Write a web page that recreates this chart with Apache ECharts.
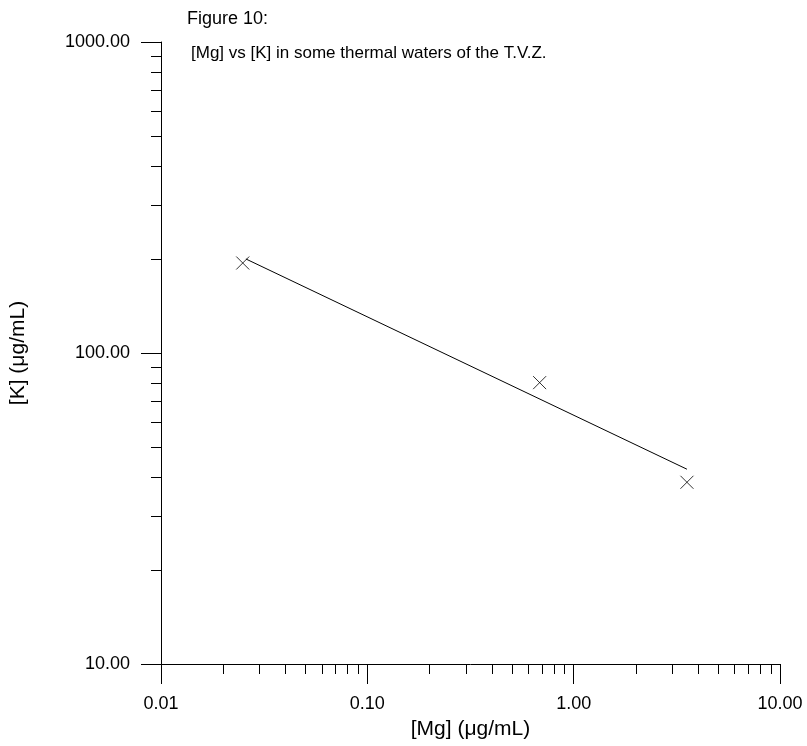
<!DOCTYPE html>
<html>
<head>
<meta charset="utf-8">
<script src="https://cdn.jsdelivr.net/npm/echarts@6/dist/echarts.min.js"></script>
<style>
  html, body { margin: 0; padding: 0; background: #fff; }
  #chart { width: 807px; height: 746px; }
</style>
</head>
<body>
<div id="chart"></div>
<script>
// Sample measurements: magnesium vs potassium concentration
const mgValues = [0.0249, 0.684, 3.54];
const kValues = [194.7, 80.3, 38.4];

// Fitted trend line (log-log), end points
const fitMg = [0.0258, 3.54];
const fitK = [200.6, 42.3];

// Axis ranges and labels
const xMin = 0.01, xMax = 10;
const yMin = 10, yMax = 1000;
const xTickLabels = { 0.01: '0.01', 0.1: '0.10', 1: '1.00', 10: '10.00' };
const yTickLabels = { 10: '10.00', 100: '100.00', 1000: '1000.00' };

// Minor tick values between decades (2..9 x decade)
const minorX = [];
[0.01, 0.1, 1].forEach(d => { for (let m = 2; m <= 9; m++) minorX.push(+(m * d).toPrecision(3)); });
const minorY = [];
[10, 100].forEach(d => { for (let m = 2; m <= 9; m++) minorY.push(m * d); });

const FONT = 'Liberation Sans, Arial, sans-serif';
const chart = echarts.init(document.getElementById('chart'), null, { renderer: 'canvas' });

function fmt(map) {
  return v => {
    const key = Object.keys(map).find(k => Math.abs(Math.log10(+k) - Math.log10(v)) < 1e-6);
    return key !== undefined ? map[key] : '';
  };
}

chart.setOption({
  animation: false,
  backgroundColor: '#fff',
  title: [
    { text: 'Figure 10:', left: 182, top: 5,
      textStyle: { fontFamily: FONT, fontSize: 18, fontWeight: 'normal', color: '#000' } },
    { text: '[Mg] vs [K] in some thermal waters of the T.V.Z.', left: 186, top: 40,
      textStyle: { fontFamily: FONT, fontSize: 17, fontWeight: 'normal', color: '#000' } }
  ],
  grid: { left: 160, right: 27, top: 42, bottom: 82, containLabel: false },
  xAxis: {
    type: 'log', logBase: 10, min: xMin, max: xMax,
    name: '[Mg] (\u03bcg/mL)', nameLocation: 'middle', nameGap: 55,
    nameTextStyle: { fontFamily: FONT, fontSize: 21, color: '#000' },
    axisLine: { show: true, lineStyle: { color: '#000', width: 1 } },
    axisTick: { show: true, length: 20, inside: false, lineStyle: { color: '#000' } },
    axisLabel: { fontFamily: FONT, fontSize: 18, color: '#000', margin: 31, formatter: fmt(xTickLabels) },
    splitLine: { show: false },
    minorTick: { show: false }
  },
  yAxis: {
    type: 'log', logBase: 10, min: yMin, max: yMax,
    name: '[K] (\u03bcg/mL)', nameLocation: 'middle', nameGap: 132, nameRotate: 90,
    nameTextStyle: { fontFamily: FONT, fontSize: 21, color: '#000' },
    axisLine: { show: true, lineStyle: { color: '#000', width: 1 } },
    axisTick: { show: true, length: 20, inside: false, lineStyle: { color: '#000' } },
    axisLabel: { fontFamily: FONT, fontSize: 18, color: '#000', margin: 31, formatter: fmt(yTickLabels) },
    splitLine: { show: false },
    minorTick: { show: false }
  },
  series: [
    {
      // minor ticks along the x axis
      type: 'custom', clip: false, silent: true,
      data: minorX.map(v => [v, yMin]),
      renderItem: (params, api) => {
        const p = api.coord([api.value(0), api.value(1)]);
        const x = Math.round(p[0]) + 0.5;
        return { type: 'line', shape: { x1: x, y1: p[1], x2: x, y2: p[1] + 10 },
                 style: { stroke: '#000', lineWidth: 1 } };
      }
    },
    {
      // minor ticks along the y axis
      type: 'custom', clip: false, silent: true,
      data: minorY.map(v => [xMin, v]),
      renderItem: (params, api) => {
        const p = api.coord([api.value(0), api.value(1)]);
        const y = Math.round(p[1]) + 0.5;
        return { type: 'line', shape: { x1: p[0], y1: y, x2: p[0] - 10, y2: y },
                 style: { stroke: '#000', lineWidth: 1 } };
      }
    },
    {
      type: 'line',
      data: fitMg.map((x, i) => [x, fitK[i]]),
      symbol: 'none',
      lineStyle: { color: '#000', width: 1 },
      silent: true
    },
    {
      type: 'scatter',
      data: mgValues.map((x, i) => [x, kValues[i]]),
      symbol: 'path://M0,0L10,10M10,0L0,10',
      symbolSize: 13,
      itemStyle: { color: 'none', borderColor: '#000', borderWidth: 1 },
      silent: true
    }
  ]
});
</script>
</body>
</html>
